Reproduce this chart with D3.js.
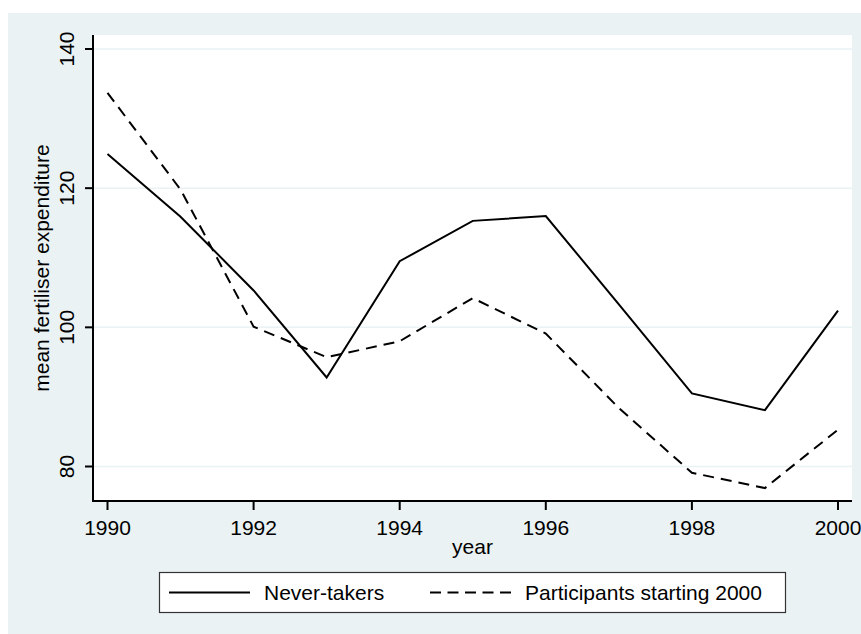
<!DOCTYPE html>
<html>
<head>
<meta charset="utf-8">
<script src="https://d3js.org/d3.v7.min.js"></script>
<style>
  body { margin: 0; background: #fff; }
  text { font-family: "Liberation Sans", Arial, sans-serif; fill: #000; }
</style>
</head>
<body>
<svg id="chart" width="861" height="634"></svg>
<script>
// data
const years = [1990, 1991, 1992, 1993, 1994, 1995, 1996, 1997, 1998, 1999, 2000];
const neverTakers = [124.9, 115.9, 105.3, 92.8, 109.5, 115.3, 116.0, 103.3, 90.5, 88.1, 102.4];
const participants = [133.7, 119.8, 100.1, 95.7, 98.0, 104.2, 99.1, 88.4, 79.1, 76.9, 85.3];
const xTicks = [1990, 1992, 1994, 1996, 1998, 2000];
const yTicks = [80, 100, 120, 140];
const seriesNames = ["Never-takers", "Participants starting 2000"];

const svg = d3.select("#chart");
const bg = "#eaf2f3";
const plot = {left: 93, right: 852, top: 35, bottom: 501};

svg.append("rect")
   .attr("x", 8).attr("y", 13)
   .attr("width", 853).attr("height", 621)
   .attr("fill", bg);
svg.append("rect")
   .attr("x", plot.left).attr("y", plot.top)
   .attr("width", plot.right - plot.left).attr("height", plot.bottom - plot.top)
   .attr("fill", "#fff");

let x = d3.scaleLinear().domain([1990, 2000]).range([107.5, 838]);
let y = d3.scaleLinear().domain([80, 140]).range([466.5, 49]);

// grid lines
svg.append("g").selectAll("line")
   .data(yTicks)
   .join("line")
   .attr("x1", plot.left).attr("x2", plot.right)
   .attr("y1", d => y(d)).attr("y2", d => y(d))
   .attr("stroke", bg)
   .attr("stroke-width", 1.5);

// series
let line = d3.line().x((d, i) => x(years[i])).y(d => y(d));
svg.append("path")
   .datum(neverTakers)
   .attr("fill", "none")
   .attr("stroke", "#000")
   .attr("stroke-width", 2)
   .attr("stroke-linejoin", "miter")
   .attr("d", line);
svg.append("path")
   .datum(participants)
   .attr("fill", "none")
   .attr("stroke", "#000")
   .attr("stroke-width", 2)
   .attr("stroke-dasharray", "11,7")
   .attr("d", line);

// axes
let yAxis = svg.append("g");
yAxis.append("line")
     .attr("x1", plot.left).attr("x2", plot.left)
     .attr("y1", plot.top).attr("y2", plot.bottom + 1)
     .attr("stroke", "#000").attr("stroke-width", 2);
yAxis.selectAll("line.tick")
     .data(yTicks)
     .join("line")
     .attr("class", "tick")
     .attr("x1", 85).attr("x2", plot.left)
     .attr("y1", d => y(d)).attr("y2", d => y(d))
     .attr("stroke", "#000").attr("stroke-width", 2);
yAxis.selectAll("text")
     .data(yTicks)
     .join("text")
     .attr("transform", d => `translate(73.5,${y(d)}) rotate(-90)`)
     .attr("text-anchor", "middle")
     .attr("font-size", 21)
     .text(d => d);

let xAxis = svg.append("g");
xAxis.append("line")
     .attr("x1", plot.left - 1).attr("x2", plot.right)
     .attr("y1", plot.bottom).attr("y2", plot.bottom)
     .attr("stroke", "#000").attr("stroke-width", 2);
xAxis.selectAll("line.tick")
     .data(xTicks)
     .join("line")
     .attr("class", "tick")
     .attr("x1", d => x(d)).attr("x2", d => x(d))
     .attr("y1", plot.bottom).attr("y2", plot.bottom + 9)
     .attr("stroke", "#000").attr("stroke-width", 2);
xAxis.selectAll("text")
     .data(xTicks)
     .join("text")
     .attr("x", d => x(d)).attr("y", 535)
     .attr("text-anchor", "middle")
     .attr("font-size", 21)
     .text(d => d);

// axis titles
svg.append("text")
   .attr("x", (plot.left + plot.right) / 2).attr("y", 554)
   .attr("text-anchor", "middle")
   .attr("font-size", 21)
   .text("year");
svg.append("text")
   .attr("transform", `translate(48.5,${(plot.top + plot.bottom) / 2}) rotate(-90)`)
   .attr("text-anchor", "middle")
   .attr("font-size", 21)
   .text("mean fertiliser expenditure");

// legend
let legend = svg.append("g");
legend.append("rect")
      .attr("x", 159.5).attr("y", 572.5)
      .attr("width", 626).attr("height", 40)
      .attr("fill", "#fff")
      .attr("stroke", "#333").attr("stroke-width", 1.2);
let keys = [{x: 169, dash: null}, {x: 430, dash: "11,6.5"}];
keys.forEach((k, i) => {
  legend.append("line")
        .attr("x1", k.x).attr("x2", k.x + 81)
        .attr("y1", 592.5).attr("y2", 592.5)
        .attr("stroke", "#000").attr("stroke-width", 2)
        .attr("stroke-dasharray", k.dash);
  legend.append("text")
        .attr("x", k.x + 95).attr("y", 600)
        .attr("font-size", 21)
        .text(seriesNames[i]);
});
</script>
</body>
</html>
